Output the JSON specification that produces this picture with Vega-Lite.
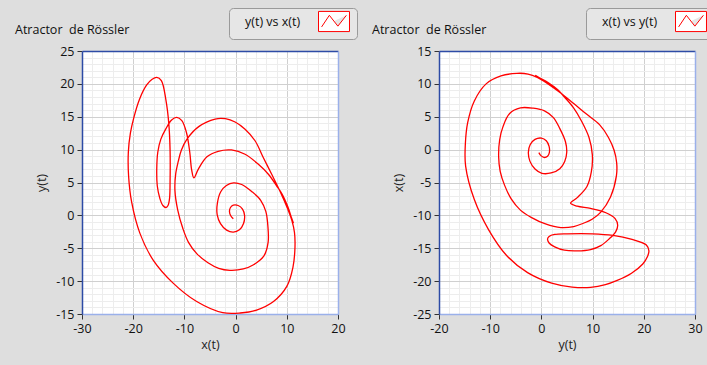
{
  "$schema": "https://vega.github.io/schema/vega-lite/v6.json",
  "background": "#dedede",
  "autosize": {"type": "none"},
  "padding": {"left": 82, "top": 51, "right": 625, "bottom": 314},
  "spacing": 101,
  "bounds": "flush",
  "resolve": {"scale": {"color": "independent"}, "legend": {"color": "independent"}},
  "config": {
    "font": "Open Sans",
    "view": {"stroke": null, "fill": "white"},
    "axis": {
      "domain": true,
      "domainWidth": 1.5,
      "labelFont": "Open Sans",
      "labelFontSize": 12.5,
      "labelColor": "#111111",
      "labelPadding": 3,
      "labelFlush": false,
      "labelOverlap": false,
      "titleFont": "Open Sans",
      "titleFontSize": 12.5,
      "titleFontWeight": "normal",
      "titleColor": "#222222",
      "tickColor": "#333333",
      "tickSize": 5,
      "gridWidth": 1
    },
    "axisBottom": {"titlePadding": 4, "domainColor": "#9ab0ea"},
    "axisRight": {"domainColor": "#9ab0ea"},
    "axisLeft": {"titlePadding": 7, "domainColor": "#2d4ba6"},
    "axisTop": {"domainColor": "#2d4ba6"},
    "title": {"font": "Open Sans", "fontSize": 12.5, "fontWeight": "normal", "color": "#111111", "anchor": "start", "frame": "group", "offset": 0},
    "legend": {
      "orient": "none",
      "legendX": 147,
      "legendY": -43,
      "title": null,
      "fillColor": "#e6e6e6",
      "strokeColor": "#9a9a9a",
      "cornerRadius": 4,
      "padding": 5,
      "labelOffset": -97.5,
      "symbolOffset": 91.5,
      "symbolType": "M-2,-1.3H2V1.3H-2Z M-1.6,0.7L-0.6,-0.8L0.5,0.6L1.6,-0.8",
      "symbolSize": 240,
      "symbolFillColor": "white",
      "symbolStrokeWidth": 1,
      "labelFont": "Open Sans",
      "labelFontSize": 12.5,
      "labelColor": "#111111"
    }
  },
  "datasets": {
    "rossler": [
      {"t": 1, "x": -0.45, "y": -0.5},
      {"t": 2, "x": -0.95, "y": -0.05},
      {"t": 3, "x": -1.2, "y": 0.6},
      {"t": 4, "x": -1.0, "y": 1.2},
      {"t": 5, "x": -0.45, "y": 1.55},
      {"t": 6, "x": 0.5, "y": 1.5},
      {"t": 7, "x": 1.35, "y": 0.95},
      {"t": 8, "x": 1.75, "y": 0.0},
      {"t": 9, "x": 1.55, "y": -1.25},
      {"t": 10, "x": 0.75, "y": -2.2},
      {"t": 11, "x": -0.45, "y": -2.55},
      {"t": 12, "x": -1.75, "y": -2.25},
      {"t": 13, "x": -2.95, "y": -1.25},
      {"t": 14, "x": -3.6, "y": 0.1},
      {"t": 15, "x": -3.55, "y": 1.9},
      {"t": 16, "x": -2.9, "y": 3.6},
      {"t": 17, "x": -1.8, "y": 4.55},
      {"t": 18, "x": -0.4, "y": 4.95},
      {"t": 19, "x": 1.2, "y": 4.7},
      {"t": 20, "x": 3.2, "y": 3.6},
      {"t": 21, "x": 4.9, "y": 2.3},
      {"t": 22, "x": 5.9, "y": 0.6},
      {"t": 23, "x": 6.3, "y": -1.6},
      {"t": 24, "x": 6.35, "y": -4.1},
      {"t": 25, "x": 5.5, "y": -6.2},
      {"t": 26, "x": 3.5, "y": -7.5},
      {"t": 27, "x": 1.5, "y": -8.15},
      {"t": 28, "x": -1.1, "y": -8.35},
      {"t": 29, "x": -3.3, "y": -8.05},
      {"t": 30, "x": -5.4, "y": -7.2},
      {"t": 31, "x": -7.5, "y": -5.9},
      {"t": 32, "x": -9.2, "y": -4.1},
      {"t": 33, "x": -10.3, "y": -2.0},
      {"t": 34, "x": -11.3, "y": 0.8},
      {"t": 35, "x": -11.85, "y": 3.8},
      {"t": 36, "x": -11.7, "y": 6.3},
      {"t": 37, "x": -11.2, "y": 8.2},
      {"t": 38, "x": -10.6, "y": 9.9},
      {"t": 39, "x": -9.5, "y": 11.6},
      {"t": 40, "x": -7.2, "y": 13.5},
      {"t": 41, "x": -4.0, "y": 14.65},
      {"t": 42, "x": -2.0, "y": 14.7},
      {"t": 43, "x": -0.1, "y": 14.2},
      {"t": 44, "x": 1.85, "y": 13.1},
      {"t": 45, "x": 3.8, "y": 11.35},
      {"t": 46, "x": 5.4, "y": 8.8},
      {"t": 47, "x": 7.05, "y": 6.25},
      {"t": 48, "x": 8.65, "y": 3.7},
      {"t": 49, "x": 10.0, "y": 1.3},
      {"t": 50, "x": 11.0, "y": -0.8},
      {"t": 51, "x": 11.5, "y": -2.6},
      {"t": 52, "x": 11.6, "y": -4.8},
      {"t": 53, "x": 11.2, "y": -7.9},
      {"t": 54, "x": 10.0, "y": -10.8},
      {"t": 55, "x": 7.4, "y": -13.1},
      {"t": 56, "x": 4.1, "y": -14.4},
      {"t": 57, "x": 0.9, "y": -14.85},
      {"t": 58, "x": -2.5, "y": -14.8},
      {"t": 59, "x": -7.6, "y": -13.1},
      {"t": 60, "x": -12.2, "y": -10.3},
      {"t": 61, "x": -16.1, "y": -6.8},
      {"t": 62, "x": -18.7, "y": -2.7},
      {"t": 63, "x": -20.3, "y": 2.0},
      {"t": 64, "x": -20.9, "y": 6.0},
      {"t": 65, "x": -20.95, "y": 9.6},
      {"t": 66, "x": -20.55, "y": 12.5},
      {"t": 67, "x": -19.9, "y": 14.8},
      {"t": 68, "x": -18.8, "y": 17.6},
      {"t": 69, "x": -17.4, "y": 19.8},
      {"t": 70, "x": -16.3, "y": 20.7},
      {"t": 71, "x": -15.4, "y": 21.0},
      {"t": 72, "x": -14.5, "y": 20.5},
      {"t": 73, "x": -13.6, "y": 17.5},
      {"t": 74, "x": -13.05, "y": 14.0},
      {"t": 75, "x": -12.8, "y": 10.0},
      {"t": 76, "x": -12.8, "y": 5.0},
      {"t": 77, "x": -12.9, "y": 2.6},
      {"t": 78, "x": -13.2, "y": 1.5},
      {"t": 79, "x": -13.6, "y": 1.2},
      {"t": 80, "x": -14.2, "y": 1.5},
      {"t": 81, "x": -14.8, "y": 2.6},
      {"t": 82, "x": -15.3, "y": 4.5},
      {"t": 83, "x": -15.4, "y": 7.0},
      {"t": 84, "x": -15.2, "y": 9.6},
      {"t": 85, "x": -14.6, "y": 11.6},
      {"t": 86, "x": -13.6, "y": 13.2},
      {"t": 87, "x": -12.5, "y": 14.5},
      {"t": 88, "x": -11.5, "y": 14.9},
      {"t": 89, "x": -10.5, "y": 14.4},
      {"t": 90, "x": -9.6, "y": 12.6},
      {"t": 91, "x": -8.95, "y": 9.6},
      {"t": 92, "x": -8.6, "y": 7.0},
      {"t": 93, "x": -8.15, "y": 5.7},
      {"t": 94, "x": -7.3, "y": 7.0},
      {"t": 95, "x": -5.6, "y": 8.9},
      {"t": 96, "x": -3.4, "y": 9.75},
      {"t": 97, "x": -0.8, "y": 9.95},
      {"t": 98, "x": 1.85, "y": 9.3},
      {"t": 99, "x": 4.4, "y": 7.8},
      {"t": 100, "x": 6.4, "y": 6.25},
      {"t": 101, "x": 8.0, "y": 4.5},
      {"t": 102, "x": 9.1, "y": 3.2},
      {"t": 103, "x": 10.2, "y": 1.3},
      {"t": 104, "x": 10.9, "y": -0.3},
      {"t": 105, "x": 11.3, "y": -1.2}
    ]
  },
  "hconcat": [
    {
      "width": 256,
      "height": 263,
      "title": {"text": "Atractor\u00a0 de Rössler", "dx": -67, "dy": 33},
      "data": {"name": "rossler"},
      "resolve": {"axis": {"x": "independent", "y": "independent"}},
      "layer": [
        {
          "mark": {"type": "line", "interpolate": "catmull-rom", "strokeWidth": 1.3},
          "encoding": {
            "x": {
              "field": "x", "type": "quantitative",
              "scale": {"domain": [-30, 20], "nice": false, "zero": false},
              "axis": {
                "orient": "bottom",
                "title": "x(t)",
                "grid": true,
                "values": [-30, -28, -26, -24, -22, -20, -18, -16, -14, -12, -10, -8, -6, -4, -2, 0, 2, 4, 6, 8, 10, 12, 14, 16, 18, 20],
                "labelExpr": "datum.value % 10 === 0 ? '' + datum.value : ''",
                "tickOpacity": {"condition": {"test": "datum.value % 10 === 0", "value": 1}, "value": 0},
                "gridOpacity": {"condition": {"test": "datum.value === -30 || datum.value === 20", "value": 0}, "value": 1},
                "gridColor": {"condition": {"test": "datum.value % 10 === 0", "value": "#d0d0d0"}, "value": "#ededed"}
              }
            },
            "y": {
              "field": "y", "type": "quantitative",
              "scale": {"domain": [-15, 25], "nice": false, "zero": false},
              "axis": {
                "orient": "left",
                "title": "y(t)",
                "grid": true,
                "values": [-15, -14, -13, -12, -11, -10, -9, -8, -7, -6, -5, -4, -3, -2, -1, 0, 1, 2, 3, 4, 5, 6, 7, 8, 9, 10, 11, 12, 13, 14, 15, 16, 17, 18, 19, 20, 21, 22, 23, 24, 25],
                "labelExpr": "datum.value % 5 === 0 ? '' + datum.value : ''",
                "tickOpacity": {"condition": {"test": "datum.value % 5 === 0", "value": 1}, "value": 0},
                "gridOpacity": {"condition": {"test": "datum.value === -15 || datum.value === 25", "value": 0}, "value": 1},
                "gridColor": {"condition": {"test": "datum.value % 5 === 0", "value": "#d0d0d0"}, "value": "#ededed"}
              }
            },
            "order": {"field": "t", "type": "quantitative"},
            "color": {"datum": "y(t) vs x(t)", "type": "nominal", "scale": {"range": ["#ff0000"]}}
          }
        },
        {
          "mark": {"type": "line", "strokeOpacity": 0},
          "encoding": {
            "x": {
              "field": "x", "type": "quantitative",
              "scale": {"domain": [-30, 20], "nice": false, "zero": false},
              "axis": {"orient": "top", "title": null, "labels": false, "ticks": false, "grid": false}
            },
            "y": {
              "field": "y", "type": "quantitative",
              "scale": {"domain": [-15, 25], "nice": false, "zero": false},
              "axis": {"orient": "right", "title": null, "labels": false, "ticks": false, "grid": false}
            },
            "order": {"field": "t", "type": "quantitative"}
          }
        }
      ]
    },
    {
      "width": 256,
      "height": 263,
      "title": {"text": "Atractor\u00a0 de Rössler", "dx": -67, "dy": 33},
      "data": {"name": "rossler"},
      "resolve": {"axis": {"x": "independent", "y": "independent"}},
      "layer": [
        {
          "mark": {"type": "line", "interpolate": "catmull-rom", "strokeWidth": 1.3},
          "encoding": {
            "x": {
              "field": "y", "type": "quantitative",
              "scale": {"domain": [-20, 30], "nice": false, "zero": false},
              "axis": {
                "orient": "bottom",
                "title": "y(t)",
                "grid": true,
                "values": [-20, -18, -16, -14, -12, -10, -8, -6, -4, -2, 0, 2, 4, 6, 8, 10, 12, 14, 16, 18, 20, 22, 24, 26, 28, 30],
                "labelExpr": "datum.value % 10 === 0 ? '' + datum.value : ''",
                "tickOpacity": {"condition": {"test": "datum.value % 10 === 0", "value": 1}, "value": 0},
                "gridOpacity": {"condition": {"test": "datum.value === -20 || datum.value === 30", "value": 0}, "value": 1},
                "gridColor": {"condition": {"test": "datum.value % 10 === 0", "value": "#d0d0d0"}, "value": "#ededed"}
              }
            },
            "y": {
              "field": "x", "type": "quantitative",
              "scale": {"domain": [-25, 15], "nice": false, "zero": false},
              "axis": {
                "orient": "left",
                "title": "x(t)",
                "grid": true,
                "values": [-25, -24, -23, -22, -21, -20, -19, -18, -17, -16, -15, -14, -13, -12, -11, -10, -9, -8, -7, -6, -5, -4, -3, -2, -1, 0, 1, 2, 3, 4, 5, 6, 7, 8, 9, 10, 11, 12, 13, 14, 15],
                "labelExpr": "datum.value % 5 === 0 ? '' + datum.value : ''",
                "tickOpacity": {"condition": {"test": "datum.value % 5 === 0", "value": 1}, "value": 0},
                "gridOpacity": {"condition": {"test": "datum.value === -25 || datum.value === 15", "value": 0}, "value": 1},
                "gridColor": {"condition": {"test": "datum.value % 5 === 0", "value": "#d0d0d0"}, "value": "#ededed"}
              }
            },
            "order": {"field": "t", "type": "quantitative"},
            "color": {"datum": "x(t) vs y(t)", "type": "nominal", "scale": {"range": ["#ff0000"]}}
          }
        },
        {
          "mark": {"type": "line", "strokeOpacity": 0},
          "encoding": {
            "x": {
              "field": "y", "type": "quantitative",
              "scale": {"domain": [-20, 30], "nice": false, "zero": false},
              "axis": {"orient": "top", "title": null, "labels": false, "ticks": false, "grid": false}
            },
            "y": {
              "field": "x", "type": "quantitative",
              "scale": {"domain": [-25, 15], "nice": false, "zero": false},
              "axis": {"orient": "right", "title": null, "labels": false, "ticks": false, "grid": false}
            },
            "order": {"field": "t", "type": "quantitative"}
          }
        }
      ]
    }
  ]
}
